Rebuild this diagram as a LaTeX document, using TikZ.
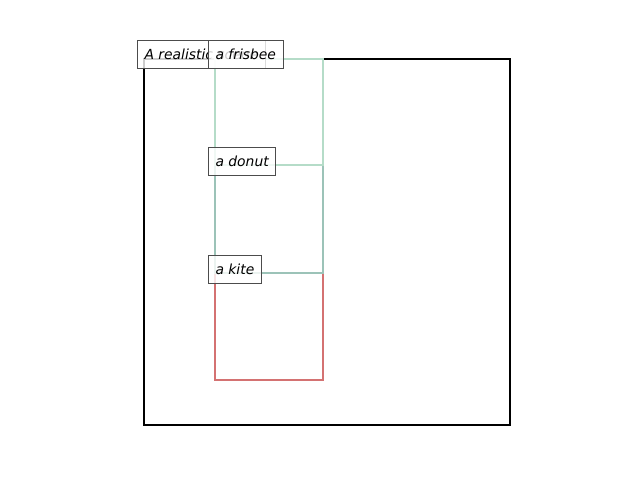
\documentclass[tikz,border=0pt]{standalone}
\usepackage{fontspec}
\setmainfont{DejaVu Sans}
\begin{document}
\begin{tikzpicture}[x=0.72pt,y=-0.72pt,
  lab/.style={draw=black!70,line width=0.72pt,fill=white,fill opacity=0.8,text opacity=1,
    anchor=west,inner xsep=5.04pt,inner ysep=0pt,minimum height=20.16pt,
    font=\fontsize{10}{12}\selectfont\itshape}]
\useasboundingbox (0,0) rectangle (640,480);

\draw [line width=1.5pt] (144,59) rectangle (510,425);

\draw [line width=1.8pt,color={rgb,255:red,212;green,114;blue,114}] (215,273) rectangle (323,380);
\draw [line width=1.8pt,color={rgb,255:red,156;green,195;blue,184}] (215,165) rectangle (323,273);
\draw [line width=1.8pt,color={rgb,255:red,181;green,220;blue,200}] (215,59) rectangle (323,165);

\node [lab] (scene) at (137,54) {A realistic scene};
\node [lab] (frisbee) at (208,54) {a frisbee};
\node [lab] (donut) at (208,161) {a donut};
\node [lab] (kite) at (208,269) {a kite};
\end{tikzpicture}
\end{document}
